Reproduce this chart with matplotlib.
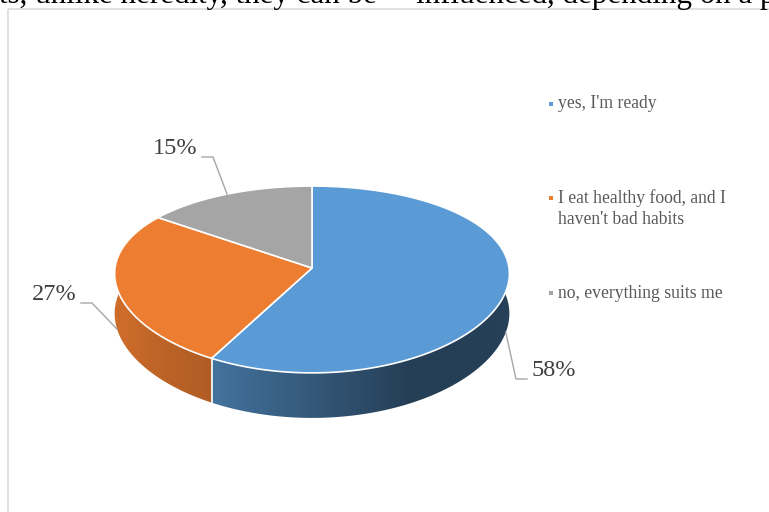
import numpy as np
import matplotlib.pyplot as plt
from matplotlib.colors import to_rgb
from matplotlib.patches import Polygon, Rectangle

plt.rcParams['font.family'] = ['Liberation Serif', 'DejaVu Serif']

# survey answers
labels = ["yes, I'm ready", "I eat healthy food, and I\nhaven't bad habits", "no, everything suits me"]
shares = [58, 27, 15]
colors = ["#5b9bd5", "#ed7d31", "#a5a5a5"]
pct_text = ["%d%%" % s for s in shares]

# surrounding document text that runs over the chart frame
doc_left = "ts, unlike heredity, they can be"
doc_right = "influenced, depending on a po"

W, H = 769, 512
cx, cy = 312, 268      # pie centre on the top face
rx, ry = 197, 92       # half axes of the tilted disc
persp = 8.14           # perspective strength
depth = 39.5           # thickness of the disc


def project(phi, z=0.0):
    # phi in degrees clockwise from 12 o'clock, z = drop below top face
    t = np.radians(phi)
    u, v = np.sin(t), -np.cos(t)
    s = persp / (persp - v)
    return cx + rx * u * np.sqrt(s), cy + ry * v * s + z * s


def shade(phi):
    return np.interp(phi % 360, [0, 90, 150, 180, 210, 250, 270, 360],
                     [0.42, 0.42, 0.40, 0.57, 0.74, 0.86, 0.88, 0.88])


fig = plt.figure(figsize=(W / 100, H / 100), dpi=100)
ax = fig.add_axes([0, 0, 1, 1])
ax.set_xlim(0, W)
ax.set_ylim(H, 0)
ax.axis('off')

ax.add_patch(Rectangle((7.5, 8.5), 900, 700, fill=False, ec='#d9d9d9', lw=1.1))
ax.text(-1, 3.5, doc_left, fontsize=22.3, color='black', va='baseline', ha='left')
ax.text(416, 3.5, doc_right, fontsize=22.3, color='black', va='baseline', ha='left')

edges = np.concatenate([[0], np.cumsum(shares) / sum(shares) * 360])

# horizontal lighting across the front of the rim
xs = np.arange(W) + 0.5
uu = np.clip((xs - cx) / rx, -1, 1)
phi_x = 180 - np.degrees(np.arcsin(uu))
light = shade(phi_x)

for i, col in enumerate(colors):
    a0, a1 = edges[i], edges[i + 1]
    phis = np.linspace(a0, a1, 300)
    v = -np.cos(np.radians(phis))
    if v.max() <= 0:
        continue
    top = [project(p) for p in phis]
    bot = [project(p, depth) for p in phis[::-1]]
    rim = Polygon(top + bot, closed=True, fc='none', ec='none')
    ax.add_patch(rim)
    base = np.array(to_rgb(col))
    img = np.clip(light[None, :, None] * base[None, None, :], 0, 1)
    im = ax.imshow(img, extent=(0, W, H, 0), aspect='auto', interpolation='bilinear', zorder=1)
    im.set_clip_path(rim)

# white seams on the visible side where slices meet
for a in edges[:-1]:
    if -np.cos(np.radians(a)) > 0:
        x0, y0 = project(a)
        x1, y1 = project(a, depth)
        ax.plot([x0, x1], [y0, y1], color='white', lw=1.2, zorder=2)

# top faces
for i, col in enumerate(colors):
    phis = np.linspace(edges[i], edges[i + 1], 200)
    pts = [(cx, cy)] + [project(p) for p in phis]
    ax.add_patch(Polygon(pts, closed=True, fc=col, ec='white', lw=1.2,
                         joinstyle='round', zorder=3))

# data labels with leader lines
label_pos = [(554, 371), (54, 295), (175, 149)]
for i, txt in enumerate(pct_text):
    mid = (edges[i] + edges[i + 1]) / 2
    front = -np.cos(np.radians(mid)) > 0
    axp, ayp = project(mid, depth if front else 0)
    tx, ty = label_pos[i]
    ax.text(tx, ty, txt, fontsize=17.5, color='#404040', ha='center', va='center', zorder=5)
    half = 23
    side = 1 if axp > tx else -1
    ly = ty + 8
    x_edge = tx + side * (half + 4)
    x_elbow = x_edge + side * 11
    ax.plot([x_edge, x_elbow, axp], [ly, ly, ayp], color='#a6a6a6', lw=1.0, zorder=4)

# legend
leg_y = [104, 198, 293]
for lab, col, y in zip(labels, colors, leg_y):
    ax.scatter([551], [y], marker='s', s=9, color=col, lw=0, zorder=5)
    for j, line in enumerate(lab.split('\n')):
        ax.text(558, y + j * 21, line, fontsize=12.7, color='#595959', ha='left', va='center')

fig.savefig('out.png', dpi=100, facecolor='white')
